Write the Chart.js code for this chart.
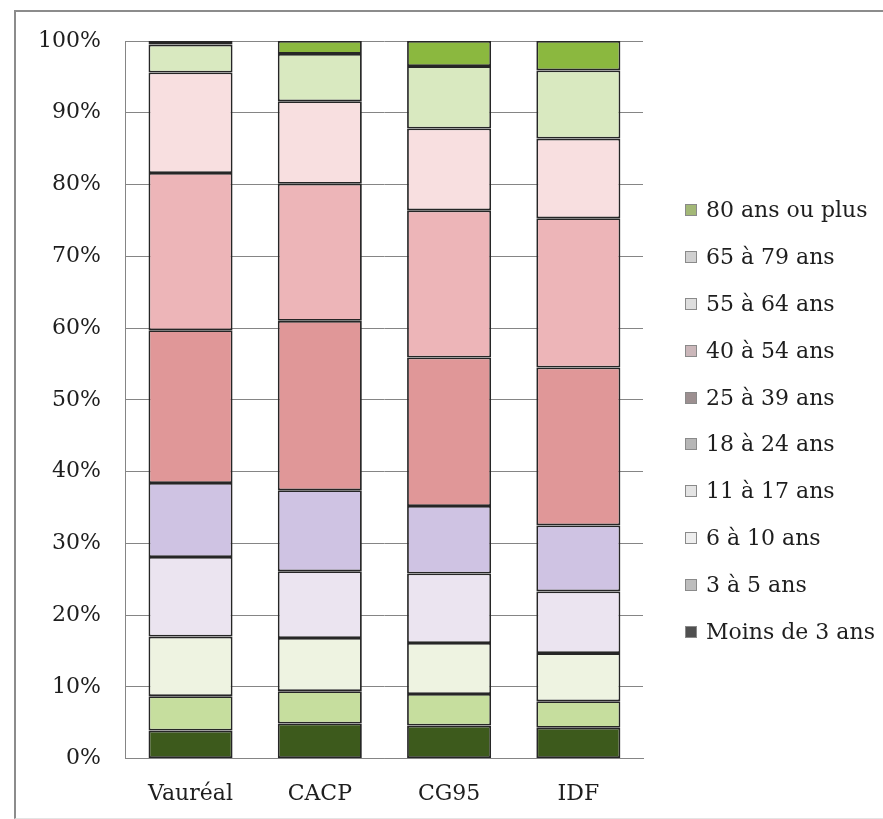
<!DOCTYPE html>
<html lang="fr">
<head>
<meta charset="utf-8">
<title>Structure par âge</title>
<script src="https://cdn.jsdelivr.net/npm/chart.js@4.4.1/dist/chart.umd.min.js"></script>
<style>
  html, body { margin: 0; padding: 0; background: #fff; overflow: hidden; }
  body { width: 883px; height: 819px; position: relative; font-family: "DejaVu Serif", serif; }
  .frame {
    position: absolute; left: 14px; top: 10px; width: 900px; height: 806px;
    border-left: 2px solid #8c8c8c; border-top: 2px solid #8c8c8c; border-bottom: 1px solid #e4e4e4;
  }
  .chart-box { position: absolute; left: 0; top: 0; width: 883px; height: 829px; }
  #legend { position: absolute; left: 685px; top: 199px; margin: 0; padding: 0; list-style: none; }
  #legend li { height: 22px; line-height: 22px; margin-bottom: 24.9px; font-size: 22px; color: #1e1e1e; white-space: nowrap; display: flex; align-items: center; }
  #legend .swatch { width: 10px; height: 10px; border: 1px solid #8a8a8a; margin-right: 9px; flex: none; }
</style>
</head>
<body>
<div class="frame"></div>
<div class="chart-box"><canvas id="ageChart"></canvas></div>
<ul id="legend"></ul>

<script>
// Territories
const territories = ['Vauréal', 'CACP', 'CG95', 'IDF'];

// Share of population per age group (%), bottom of the stack first
const moins3 = [3.9, 4.9, 4.6, 4.3];
const ans3a5 = [4.8, 4.5, 4.4, 3.7];
const ans6a10 = [8.3, 7.4, 7.1, 6.7];
const ans11a17 = [11.1, 9.3, 9.7, 8.6];
const ans18a24 = [10.3, 11.3, 9.4, 9.2];
const ans25a39 = [21.3, 23.6, 20.7, 22.0];
const ans40a54 = [21.9, 19.1, 20.5, 20.8];
const ans55a64 = [14.0, 11.5, 11.4, 11.1];
const ans65a79 = [3.9, 6.6, 8.7, 9.5];
const ans80plus = [0.5, 1.8, 3.5, 4.1];

const ageLabels = ['Moins de 3 ans', '3 à 5 ans', '6 à 10 ans', '11 à 17 ans', '18 à 24 ans',
  '25 à 39 ans', '40 à 54 ans', '55 à 64 ans', '65 à 79 ans', '80 ans ou plus'];
const ageValues = [moins3, ans3a5, ans6a10, ans11a17, ans18a24,
  ans25a39, ans40a54, ans55a64, ans65a79, ans80plus];

// Y axis ticks
const yTicks = [0, 10, 20, 30, 40, 50, 60, 70, 80, 90, 100];

// Bar fills and the greyed legend swatches
const barColors = ['#3d5a1c', '#c6de9e', '#eef3e1', '#ebe4f0', '#cfc3e3',
  '#e09798', '#edb5b8', '#f8dfe0', '#d9e9c0', '#8bb83f'];
const swatchColors = ['#505050', '#bdbdbd', '#eeeeee', '#e4e4e4', '#b6b6b6',
  '#9c8f90', '#cbb7ba', '#dedede', '#d0d0d0', '#a3b877'];

const FONT = { family: '"DejaVu Serif", serif', size: 22 };

function buildDatasets() {
  return ageLabels.map((label, i) => ({
    label: label,
    data: ageValues[i],
    backgroundColor: barColors[i],
    borderColor: '#262626',
    borderWidth: 1.8,
    borderSkipped: false,
    barPercentage: 0.65,
    categoryPercentage: 1
  }));
}

function renderChart() {
  const ctx = document.getElementById('ageChart');
  return new Chart(ctx, {
    type: 'bar',
    data: { labels: territories, datasets: buildDatasets() },
    options: {
      responsive: true,
      maintainAspectRatio: false,
      animation: false,
      layout: { padding: { left: 13, right: 240, top: 41, bottom: 0 } },
      plugins: { legend: { display: false }, tooltip: { enabled: false } },
      scales: {
        x: {
          stacked: true,
          grid: { display: false, drawTicks: false },
          border: { display: true, color: '#858585', width: 1 },
          ticks: { color: '#1e1e1e', font: FONT, padding: 22 }
        },
        y: {
          stacked: true,
          min: 0,
          max: 100,
          afterBuildTicks: axis => { axis.ticks = yTicks.map(v => ({ value: v })); },
          grid: { color: '#858585', lineWidth: 1, drawTicks: false },
          border: { display: true, color: '#858585', width: 1 },
          ticks: { color: '#1e1e1e', font: FONT, padding: 25, callback: v => v + '%' }
        }
      }
    }
  });
}

// Legend: oldest group on top, same order as the stack read downward
function renderLegend() {
  const list = document.getElementById('legend');
  for (let i = ageLabels.length - 1; i >= 0; i--) {
    const li = document.createElement('li');
    const sw = document.createElement('span');
    sw.className = 'swatch';
    sw.style.background = swatchColors[i];
    li.appendChild(sw);
    li.appendChild(document.createTextNode(ageLabels[i]));
    list.appendChild(li);
  }
}

renderLegend();
renderChart();
</script>
</body>
</html>
